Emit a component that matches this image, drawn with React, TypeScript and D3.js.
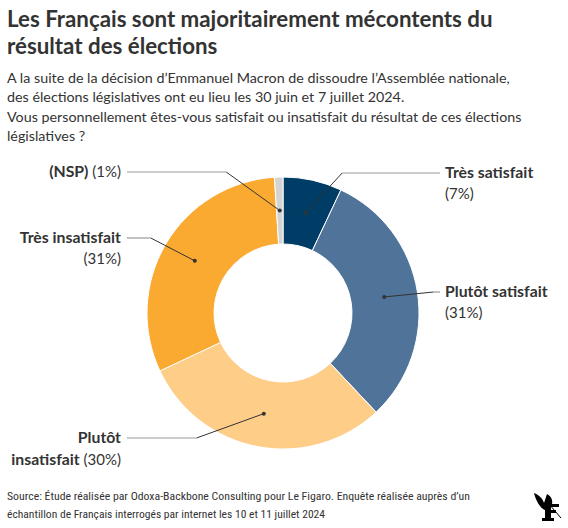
import React from "react";
import * as d3 from "d3";

const categories = ["Très satisfait", "Plutôt satisfait", "Plutôt insatisfait", "Très insatisfait", "(NSP)"];
const values = [7, 31, 30, 31, 1];
const colors = ["#003d66", "#4f7399", "#fecd88", "#faa931", "#d4d4d4"];

// label layout: side and vertical position of label line
const labelSide = ["right", "right", "left", "left", "left"];
const labelY = [173, 292, 438, 238, 172];

const subtitleLines = [
  "A la suite de la décision d’Emmanuel Macron de dissoudre l’Assemblée nationale,",
  "des élections législatives ont eu lieu les 30 juin et 7 juillet 2024.",
  "Vous personnellement êtes-vous satisfait ou insatisfait du résultat de ces élections",
  "législatives ?",
];

const W = 568, H = 528;
const cx = 283, cy = 313;
const outerR = 136, innerR = 69, elbowR = 152;

export default function App() {
  const pie = d3.pie<number>().sort(null).value((d) => d)(values);
  const arc = d3.arc<d3.PieArcDatum<number>>().innerRadius(innerR).outerRadius(outerR);
  const fontSans = "Lato, 'Noto Sans', sans-serif";
  const textColor = "#333333";
  const boldSize = 15.8;
  const regSize = 15;

  return (
    <svg width={W} height={H} style={{ position: "absolute", left: 0, top: 0, background: "#fff" }}>
      <text x={7} y={27} fontFamily="Lato, sans-serif" fontWeight={700} fontSize={22.3} fill={textColor}>
        Les Français sont majoritairement mécontents du
      </text>
      <text x={7} y={54} fontFamily="Lato, sans-serif" fontWeight={700} fontSize={22.3} fill={textColor}>
        résultat des élections
      </text>
      {subtitleLines.map((t, i) => (
        <text key={i} x={7} y={83 + i * 19.3} fontFamily={fontSans} fontSize={14.3} fill={textColor}>
          {t}
        </text>
      ))}

      <g transform={`translate(${cx},${cy})`}>
        {pie.map((p, i) => (
          <path key={i} d={arc(p) || ""} fill={colors[i]} stroke="#fff" strokeWidth={1} />
        ))}
      </g>

      {pie.map((p, i) => {
        const [mx, my] = arc.centroid(p);
        const dx = cx + mx, dy = cy + my;
        const ly = labelY[i];
        const side = labelSide[i];
        const off = ly - cy;
        const ex = cx + (side === "right" ? 1 : -1) * Math.sqrt(Math.max(0, elbowR * elbowR - off * off));
        const endX = side === "right" ? 440 : 127;
        const tx = side === "right" ? 445 : 121;
        const anchor = side === "right" ? "start" : "end";
        const name = categories[i];
        const pct = `(${values[i]}%)`;
        let texts: React.ReactNode;
        if (name === "(NSP)") {
          texts = (
            <text x={tx} y={ly + 5} textAnchor={anchor} fontFamily={fontSans} fontSize={regSize} fill={textColor}>
              <tspan fontWeight={700} fontSize={boldSize}>{name}</tspan> {pct}
            </text>
          );
        } else if (name === "Plutôt insatisfait") {
          texts = (
            <>
              <text x={tx} y={ly + 5} textAnchor={anchor} fontFamily={fontSans} fontSize={boldSize} fontWeight={700} fill={textColor}>
                Plutôt
              </text>
              <text x={tx} y={ly + 27} textAnchor={anchor} fontFamily={fontSans} fontSize={regSize} fill={textColor}>
                <tspan fontWeight={700} fontSize={boldSize}>insatisfait</tspan> {pct}
              </text>
            </>
          );
        } else {
          texts = (
            <>
              <text x={tx} y={ly + 5} textAnchor={anchor} fontFamily={fontSans} fontSize={boldSize} fontWeight={700} fill={textColor}>
                {name}
              </text>
              <text x={tx} y={ly + 26} textAnchor={anchor} fontFamily={fontSans} fontSize={regSize} fill={textColor}>
                {pct}
              </text>
            </>
          );
        }
        return (
          <g key={i}>
            <path d={`M${dx},${dy}L${ex},${ly}`} stroke="#333" strokeWidth={1} fill="none" />
            <path d={`M${ex},${ly}L${endX},${ly}`} stroke="#999" strokeWidth={1.2} fill="none" />
            <circle cx={dx} cy={dy} r={2} fill="#333" />
            {texts}
          </g>
        );
      })}

      <text x={7} y={500} fontFamily="'Roboto Condensed', 'Liberation Sans Narrow', Roboto, sans-serif" fontSize={11.5} fill={textColor} textLength={463} lengthAdjust="spacingAndGlyphs">
        Source: Étude réalisée par Odoxa-Backbone Consulting pour Le Figaro. Enquête réalisée auprès d’un
      </text>
      <text x={7} y={518} fontFamily="'Roboto Condensed', 'Liberation Sans Narrow', Roboto, sans-serif" fontSize={11.5} fill={textColor} textLength={318} lengthAdjust="spacingAndGlyphs">
        échantillon de Français interrogés par internet les 10 et 11 juillet 2024
      </text>

      <g transform="translate(534,491)">
        <path d="M0,2 C5,4 9,8 10,12 L13,3 C17,5 19,9 18,13 L25,13 L25,16 L17,16 L17,19 L22,19 L22,22 L17,22 L17,27 L20,27 L20,30 L8,30 L8,27 L11,27 L11,19 C6,17 2,10 0,2 Z" fill="#000" />
        <path d="M15,13 L27,27" stroke="#000" strokeWidth={1} />
      </g>
    </svg>
  );
}
